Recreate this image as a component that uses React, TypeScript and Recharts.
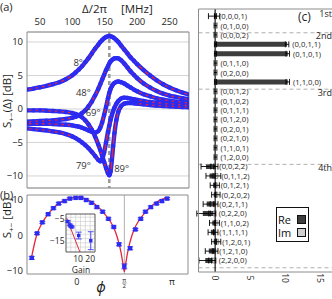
import React from 'react';
import {
  LineChart, ComposedChart, Line, Bar, Scatter, XAxis, YAxis, CartesianGrid,
  ReferenceLine, ReferenceDot, ErrorBar, Label,
} from 'recharts';

const FONT = '"Open Sans", "Noto Sans", "DejaVu Sans", sans-serif';
const BLUE = '#2b2bf2';
const RED = '#e3263c';
const FRAME = '#8c8c8c';
const GRID = '#c9c9c9';
const INK = '#1e1e1e';

const minus = (v: number | string) => String(v).replace('-', '\u2212');

/* ---------------- panel (a): S+-(Δ) vs detuning ---------------- */
const detuningMHz = [30, 40, 50, 60, 70, 80, 90, 100, 105, 110, 115, 120, 125, 130, 135, 140, 143, 146, 149, 152, 155, 157, 159, 161, 163, 165, 168, 171, 175, 180, 185, 190, 195, 200, 210, 220, 230, 240, 250, 260, 270, 280];
const gain8 = [2.9, 3.05, 3.25, 3.45, 3.7, 4.0, 4.45, 5.05, 5.45, 5.9, 6.4, 7.0, 7.6, 8.3, 9.0, 9.6, 10.0, 10.3, 10.55, 10.75, 10.85, 10.9, 10.85, 10.8, 10.7, 10.55, 10.3, 10.0, 9.5, 8.9, 8.3, 7.7, 7.2, 6.7, 5.8, 5.0, 4.3, 3.7, 3.2, 2.8, 2.45, 2.15];
const gain48 = [-1.9, -1.85, -1.8, -1.75, -1.7, -1.6, -1.5, -1.3, -1.15, -0.95, -0.6, -0.2, 0.4, 1.1, 2.0, 3.0, 3.7, 4.4, 5.1, 5.8, 6.4, 6.8, 7.1, 7.3, 7.45, 7.55, 7.6, 7.55, 7.3, 6.8, 6.2, 5.6, 5.1, 4.6, 3.8, 3.2, 2.7, 2.3, 2.0, 1.8, 1.6, 1.45];
const gain69 = [-2.2, -2.2, -2.2, -2.2, -2.25, -2.3, -2.35, -2.45, -2.55, -2.65, -2.8, -3.0, -3.2, -3.4, -3.5, -3.3, -2.8, -2.0, -0.9, 0.3, 1.6, 2.4, 3.0, 3.4, 3.7, 3.9, 4.05, 4.1, 4.0, 3.8, 3.5, 3.2, 2.9, 2.65, 2.2, 1.9, 1.6, 1.4, 1.25, 1.1, 1.0, 0.9];
const gain79 = [-2.9, -3.0, -3.1, -3.2, -3.35, -3.5, -3.75, -4.1, -4.35, -4.65, -5.0, -5.4, -5.85, -6.4, -7.0, -7.6, -7.8, -7.5, -6.5, -5.0, -3.4, -2.5, -1.6, -0.9, -0.3, 0.2, 0.8, 1.2, 1.55, 1.7, 1.65, 1.55, 1.45, 1.35, 1.2, 1.05, 0.95, 0.85, 0.75, 0.7, 0.6, 0.55];
const gain89 = [-0.2, -0.2, -0.2, -0.25, -0.3, -0.35, -0.45, -0.6, -0.75, -0.95, -1.25, -1.7, -2.3, -3.1, -4.1, -5.3, -6.1, -7.0, -7.9, -8.8, -9.6, -9.9, -9.3, -7.6, -5.5, -3.6, -1.6, -0.4, 0.4, 0.8, 0.9, 0.9, 0.85, 0.8, 0.7, 0.6, 0.5, 0.45, 0.4, 0.35, 0.3, 0.25];
const curveKeys = ['c8', 'c48', 'c69', 'c79', 'c89'];
const curveValues = [gain8, gain48, gain69, gain79, gain89];
const phaseNames = ['8°', '48°', '69°', '79°', '89°'];
const phaseNameMHz = [109, 117, 132, 117, 176];
const phaseNameDb = [6.9, 2.4, -0.6, -8.4, -8.9];
const pumpMHz = 157;
const aTopTicks = [50, 100, 150, 200, 250];
const aTopMinor = [30, 40, 60, 70, 80, 90, 110, 120, 130, 140, 160, 170, 180, 190, 210, 220, 230, 240, 260, 270, 280];
const aYTicks = [-10, -5, 0, 5, 10];
const aYMinor = [-11, -9, -8, -7, -6, -4, -3, -2, -1, 1, 2, 3, 4, 6, 7, 8, 9, 11];

const aRows = detuningMHz.map((f, i) => {
  const r: any = { f };
  curveKeys.forEach((k, j) => { r[k] = curveValues[j][i]; });
  return r;
});

/* ---------------- panel (b): S+- vs phase ---------------- */
const phaseDeg = [-85, -75, -65, -54, -44, -34, -23, -13, -2, 8, 18, 28, 38, 49, 60, 70, 80, 90, 101, 111, 121, 130, 140, 151, 161, 171];
const phaseDb = [-6.3, 0.6, 3.7, 6.0, 7.7, 9.0, 9.7, 10.4, 10.6, 10.6, 10.0, 9.2, 8.0, 6.7, 4.7, 2.4, -2.5, -8.7, -3.6, 1.7, 4.7, 6.7, 8.0, 9.0, 9.7, 10.4];
const phaseErr = [0.4, 0.3, 0.3, 0.3, 0.3, 0.3, 0.3, 0.3, 0.3, 0.3, 0.3, 0.3, 0.3, 0.3, 0.3, 0.3, 0.4, 0.7, 0.4, 0.3, 0.3, 0.3, 0.3, 0.3, 0.3, 0.3];
const fitPhaseDeg = [-86, -80, -75, -70, -65, -60, -50, -40, -30, -20, -10, 0, 10, 20, 30, 40, 50, 60, 65, 70, 75, 80, 84, 87, 90, 93, 96, 100, 105, 110, 115, 120, 130, 140, 150, 160, 170, 173];
const fitPhaseDb = [-6.6, -2.4, 0.4, 2.2, 3.6, 4.8, 6.8, 8.3, 9.4, 10.1, 10.5, 10.7, 10.6, 10.1, 9.3, 8.1, 6.6, 4.7, 3.6, 2.2, 0.3, -2.3, -5.0, -7.6, -10.2, -7.6, -5.0, -2.3, 0.3, 2.2, 3.6, 4.7, 6.6, 8.1, 9.3, 10.1, 10.5, 10.6];
const phiTickDeg = [0, 90, 180];
const bYTicks = [-10, 0, 10];
const bYMinor = [-8, -6, -4, -2, 2, 4, 6, 8];

const bRows = phaseDeg.map((phi, i) => ({ phi, db: phaseDb[i], err: phaseErr[i] }));
const bFitRows = fitPhaseDeg.map((phi, i) => ({ phi, fit: fitPhaseDb[i] }));

/* inset: isolation vs gain */
const insetGain = [1.5, 3.2, 4.0, 4.8, 10.5, 20.5];
const insetDb = [-6.0, -7.6, -8.2, -8.6, -12.6, -15.0];
const insetErr = [0.4, 0.4, 0.4, 0.4, 1.6, 4.2];
const insetFitGain = [0.5, 11.5];
const insetFitDb = [-4.3, -20.3];
const insetGridGain = [4, 8, 12, 16, 20];
const insetGridDb = [-18, -16, -14, -12, -10, -8, -6, -4];

const insetRows = insetGain.map((g, i) => ({ g, db: insetDb[i], err: insetErr[i] }));
const insetFitRows = insetFitGain.map((g, i) => ({ g, db: insetFitDb[i] }));

/* ---------------- panel (c): process tomography ---------------- */
const basisLabels = ['(0,0,0,1)', '(0,1,0,0)', '(0,0,0,2)', '(0,0,1,1)', '(0,1,0,1)', '(0,1,1,0)', '(0,2,0,0)', '(1,1,0,0)',
  '(0,0,1,2)', '(0,1,0,2)', '(0,1,1,1)', '(0,1,2,0)', '(0,2,0,1)', '(0,2,1,0)', '(1,1,0,1)', '(1,2,0,0)',
  '(0,0,2,2)', '(0,1,1,2)', '(0,1,2,1)', '(0,2,0,2)', '(0,2,1,1)', '(0,2,2,0)', '(1,1,0,2)', '(1,1,1,1)', '(1,2,0,1)', '(1,2,1,0)', '(2,2,0,0)'];
const reValue = [-0.15, 0.05, 0.05, 10.2, 10.3, 0.05, 0.05, 10.3, 0.05, 0.05, 0.05, 0.05, 0.05, 0.05, 0.05, 0.05, -1.3, -0.8, -0.3, -0.2, -1.2, -1.75, -0.4, -0.6, -0.2, -0.9, -1.4];
const reError = [0.8, 0.2, 0.2, 0.25, 0.25, 0.2, 0.2, 0.25, 0.2, 0.2, 0.2, 0.2, 0.2, 0.2, 0.2, 0.2, 0.7, 0.5, 0.4, 0.3, 0.5, 0.85, 0.4, 0.4, 0.3, 0.5, 0.9];
const imValue = [0.05, 0, 0, 0.05, 0.05, 0, 0, 0.05, 0, 0, 0, 0, 0, 0, 0, 0, 0.1, 0.4, 0.3, 0.4, 0.1, -0.3, 0.3, 0.1, 0.5, 0.1, -0.4];
const imError = [0.15, 0.15, 0.15, 0.15, 0.15, 0.15, 0.15, 0.15, 0.15, 0.15, 0.15, 0.15, 0.15, 0.15, 0.15, 0.15, 0.3, 0.4, 0.3, 0.3, 0.3, 0.4, 0.3, 0.3, 0.3, 0.3, 0.5];
const orderNames = ['1st', '2nd', '3rd', '4th'];
const orderSizes = [2, 6, 8, 11];
const cXTicks = [0, 5, 10, 15];
const legendNames = ['Re', 'Im'];
const legendFills = ['#3d3d3d', '#cfcfcf'];

const cRows = basisLabels.map((label, i) => ({ row: i, re: reValue[i], reErr: reError[i], im: imValue[i], imErr: imError[i] }));
const cLabelRows = basisLabels.map((label, i) => ({
  row: i, label,
  pos: Math.max(0, reValue[i] > 0 ? reValue[i] + reError[i] : 0, imValue[i] > 0 ? imValue[i] : 0) + 0.5,
}));
const orderEnds: number[] = [];
orderSizes.reduce((acc, n) => { orderEnds.push(acc + n); return acc + n; }, 0);

const C_Y_DOMAIN: [number, number] = [-0.78, 27.2];

/* ---------------- helpers ---------------- */
const tickStyle = { fontSize: 9.5, fill: INK, fontFamily: FONT };

const YTitleA = () => (
  <text transform="translate(11,101) rotate(-90)" textAnchor="middle" fontSize={11.5} fill={INK} fontFamily={FONT}>
    <tspan>S</tspan><tspan fontSize={8} dy={2.5}>+−</tspan><tspan dy={-2.5}>(Δ) [dB]</tspan>
  </text>
);
const XTitleA = () => (
  <text y={12.5} fontSize={11.5} fill={INK} fontFamily={FONT}>
    <tspan x={82}>Δ/2π</tspan><tspan x={121}>[MHz]</tspan>
  </text>
);
const YTitleB = () => (
  <text transform="translate(11,33) rotate(-90)" textAnchor="middle" fontSize={11.5} fill={INK} fontFamily={FONT}>
    <tspan>S</tspan><tspan fontSize={8} dy={2.5}>+−</tspan><tspan dy={-2.5}> [dB]</tspan>
  </text>
);
const XTitleB = () => (
  <text x={101} y={107} textAnchor="middle" fontSize={14} fontStyle="italic" fill={INK} fontFamily={FONT}>ϕ</text>
);
const GainTitle = () => (
  <text x={41} y={68} textAnchor="middle" fontSize={8.5} fill={INK} fontFamily={FONT}>Gain</text>
);

const PhiTick = (p: any) => {
  const v = p.payload.value;
  if (v === 90) {
    return (
      <g>
        <text x={p.x} y={p.y + 4.5} textAnchor="middle" fontSize={6} fill={INK} fontFamily={FONT}>π</text>
        <line x1={p.x - 2.2} x2={p.x + 2.2} y1={p.y + 6} y2={p.y + 6} stroke={INK} strokeWidth={0.5} />
        <text x={p.x} y={p.y + 11} textAnchor="middle" fontSize={6} fill={INK} fontFamily={FONT}>2</text>
      </g>
    );
  }
  return <text x={p.x} y={p.y + 8} textAnchor="middle" fontSize={9} fill={INK} fontFamily={FONT}>{v === 0 ? '0' : 'π'}</text>;
};

const RotTick = (p: any) => (
  <text transform={`translate(${p.x},${p.y + 6}) rotate(90)`} textAnchor="middle" dominantBaseline="central"
    fontSize={8.5} fill={INK} fontFamily={FONT}>{p.payload.value}</text>
);

const RowLabel = (p: any) => (
  <text x={p.cx} y={p.cy} dy="0.36em" fontSize={7.7} fill={INK} fontFamily={FONT}>{p.payload.label}</text>
);

const orderLabel = (text: string, drop: number) => (p: any) => {
  const vb = p.viewBox || {};
  return (
    <text x={vb.x + vb.width - 3} y={vb.y + drop} textAnchor="end" fontSize={9} fill={INK} fontFamily={FONT}>{text}</text>
  );
};

const LegendBox = () => (
  <div style={{ width: 33, height: 35, border: '1px solid #111', background: '#fff', boxSizing: 'border-box', padding: '5px 0 0 1px', fontFamily: FONT, fontSize: 11, color: '#111' }}>
    {legendNames.map((n, i) => (
      <div key={n} style={{ display: 'flex', alignItems: 'center', height: 13 }}>
        <span style={{ width: 19, lineHeight: '12px' }}>{n}</span>
        <span style={{ width: 9, height: 9, background: legendFills[i], border: '1px solid #111', boxSizing: 'border-box' }} />
      </div>
    ))}
  </div>
);

/* ---------------- panels ---------------- */
function PanelA() {
  const dom: [number, number] = [30, 280];
  const ydom: [number, number] = [-11.8, 11.5];
  return (
    <LineChart width={200} height={200} data={aRows} margin={{ top: 2, right: 10, bottom: 11, left: 2 }}>
      <CartesianGrid xAxisId="t" yAxisId="l" vertical={false} stroke={GRID} strokeWidth={0.8} />
      <XAxis xAxisId="t" orientation="top" type="number" dataKey="f" domain={dom} allowDataOverflow ticks={aTopTicks} interval={0}
        height={30} tickLine={false} axisLine={false} tickSize={0} tickMargin={7} tick={tickStyle}>
        <Label content={XTitleA} />
      </XAxis>
      <XAxis xAxisId="tM" orientation="top" mirror type="number" domain={dom} allowDataOverflow ticks={aTopTicks} interval={0}
        height={0.01} tick={false} tickSize={4} tickLine={{ stroke: FRAME }} axisLine={{ stroke: FRAME }} />
      <XAxis xAxisId="tm" orientation="top" mirror type="number" domain={dom} allowDataOverflow ticks={aTopMinor} interval={0}
        height={0.01} tick={false} tickSize={2} tickLine={{ stroke: FRAME }} axisLine={false} />
      <XAxis xAxisId="b" orientation="bottom" type="number" domain={dom} allowDataOverflow height={1}
        tick={false} tickLine={false} axisLine={{ stroke: FRAME }} />
      <YAxis yAxisId="l" type="number" domain={ydom} allowDataOverflow ticks={aYTicks} interval={0} width={25}
        tickLine={false} tickSize={0} tickMargin={4} axisLine={{ stroke: FRAME }} tick={tickStyle} tickFormatter={minus}>
        <Label content={YTitleA} />
      </YAxis>
      <YAxis yAxisId="lM" mirror type="number" domain={ydom} allowDataOverflow ticks={aYTicks} interval={0} width={0.01}
        tick={false} tickSize={4} tickLine={{ stroke: FRAME }} axisLine={false} />
      <YAxis yAxisId="lm" mirror type="number" domain={ydom} allowDataOverflow ticks={aYMinor} interval={0} width={0.01}
        tick={false} tickSize={2} tickLine={{ stroke: FRAME }} axisLine={false} />
      <YAxis yAxisId="r" orientation="right" type="number" domain={ydom} allowDataOverflow width={1}
        tick={false} tickLine={false} axisLine={{ stroke: FRAME }} />
      <ReferenceLine xAxisId="t" yAxisId="l" x={pumpMHz} stroke="#9a9a9a" strokeWidth={2.6} strokeDasharray="4 3" />
      {curveKeys.map((k) => (
        <Line key={k + 'b'} xAxisId="t" yAxisId="l" dataKey={k} type="monotone" stroke={BLUE} strokeWidth={4.4}
          dot={{ r: 2.2, fill: BLUE, stroke: 'none' }} isAnimationActive={false} />
      ))}
      {curveKeys.map((k) => (
        <Line key={k + 'r'} xAxisId="t" yAxisId="l" dataKey={k} type="monotone" stroke={RED} strokeWidth={1.3}
          dot={false} isAnimationActive={false} />
      ))}
      {phaseNames.map((t, i) => (
        <ReferenceDot key={t} xAxisId="t" yAxisId="l" x={phaseNameMHz[i]} y={phaseNameDb[i]} r={0} fill="none" stroke="none"
          label={{ value: t, position: 'center', fontSize: 9.5, fill: '#333', fontFamily: FONT }} />
      ))}
    </LineChart>
  );
}

function PanelB() {
  const dom: [number, number] = [-94, 210.4];
  const ydom: [number, number] = [-10.85, 11.41];
  return (
    <ComposedChart width={200} height={114} margin={{ top: 10, right: 11, bottom: 5, left: 2 }}>
      <XAxis xAxisId="x" orientation="bottom" type="number" dataKey="phi" domain={dom} allowDataOverflow ticks={phiTickDeg} interval={0}
        height={20} tickLine={false} tickSize={0} tickMargin={3} axisLine={{ stroke: FRAME }} tick={PhiTick}>
        <Label content={XTitleB} />
      </XAxis>
      <XAxis xAxisId="xM" orientation="bottom" mirror type="number" domain={dom} allowDataOverflow ticks={phiTickDeg} interval={0}
        height={0.01} tick={false} tickSize={3} tickLine={{ stroke: FRAME }} axisLine={false} />
      <XAxis xAxisId="top" orientation="top" mirror type="number" domain={dom} allowDataOverflow height={0.01}
        tick={false} tickLine={false} axisLine={{ stroke: FRAME }} />
      <YAxis yAxisId="y" type="number" domain={ydom} allowDataOverflow ticks={bYTicks} interval={0} width={25}
        tickLine={false} tickSize={0} tickMargin={4} axisLine={{ stroke: FRAME }} tick={tickStyle} tickFormatter={minus}>
        <Label content={YTitleB} />
      </YAxis>
      <YAxis yAxisId="yM" mirror type="number" domain={ydom} allowDataOverflow ticks={bYTicks} interval={0} width={0.01}
        tick={false} tickSize={4} tickLine={{ stroke: FRAME }} axisLine={false} />
      <YAxis yAxisId="ym" mirror type="number" domain={ydom} allowDataOverflow ticks={bYMinor} interval={0} width={0.01}
        tick={false} tickSize={2} tickLine={{ stroke: FRAME }} axisLine={false} />
      <YAxis yAxisId="r" orientation="right" type="number" domain={ydom} allowDataOverflow width={1}
        tick={false} tickLine={false} axisLine={{ stroke: FRAME }} />
      <ReferenceLine xAxisId="x" yAxisId="y" x={90} stroke="#b0b0b0" strokeWidth={1} />
      <Line xAxisId="x" yAxisId="y" data={bFitRows} dataKey="fit" type="monotone" stroke={RED} strokeWidth={1.3} dot={false} isAnimationActive={false} />
      <Scatter xAxisId="x" yAxisId="y" data={bRows} dataKey="db" isAnimationActive={false}
        shape={(p: any) => <rect x={p.cx - 2.2} y={p.cy - 2.2} width={4.4} height={4.4} fill={BLUE} />}>
        <ErrorBar dataKey="err" direction="y" width={3} stroke={BLUE} strokeWidth={0.8} />
      </Scatter>
    </ComposedChart>
  );
}

function Inset() {
  const dom: [number, number] = [0, 24];
  const ydom: [number, number] = [-20.3, -2.5];
  return (
    <ComposedChart width={60} height={70} margin={{ top: 9, right: 4, bottom: 13, left: 6 }}>
      <CartesianGrid xAxisId="x" yAxisId="y" fill="#fff" stroke={GRID} strokeWidth={0.6}
        horizontalValues={insetGridDb} verticalValues={insetGridGain} />
      <XAxis xAxisId="x" type="number" dataKey="g" domain={dom} allowDataOverflow ticks={[10, 20]} interval={0} height={10}
        tickSize={0} tickMargin={4} tickLine={false} axisLine={{ stroke: '#555' }} tick={{ fontSize: 8.5, fill: INK, fontFamily: FONT }}>
        <Label content={GainTitle} />
      </XAxis>
      <XAxis xAxisId="top" orientation="top" mirror type="number" domain={dom} allowDataOverflow height={0.01}
        tick={false} tickLine={false} axisLine={{ stroke: '#555' }} />
      <YAxis yAxisId="y" type="number" domain={ydom} allowDataOverflow ticks={[-5, -15]} interval={0} width={20}
        tickSize={0} tickMargin={1.5} tickLine={false} axisLine={{ stroke: '#555' }} tick={{ fontSize: 8.5, fill: INK, fontFamily: FONT }} tickFormatter={minus} />
      <YAxis yAxisId="r" orientation="right" type="number" domain={ydom} allowDataOverflow width={1}
        tick={false} tickLine={false} axisLine={{ stroke: '#555' }} />
      <Line xAxisId="x" yAxisId="y" data={insetFitRows} dataKey="db" type="linear" stroke={RED} strokeWidth={1} dot={false} isAnimationActive={false} />
      <Scatter xAxisId="x" yAxisId="y" data={insetRows} dataKey="db" isAnimationActive={false}
        shape={(p: any) => <rect x={p.cx - 1.7} y={p.cy - 1.7} width={3.4} height={3.4} fill={BLUE} />}>
        <ErrorBar dataKey="err" direction="y" width={3} stroke={BLUE} strokeWidth={0.8} />
      </Scatter>
    </ComposedChart>
  );
}

function PanelC() {
  const dom: [number, number] = [-2.36, 17];
  return (
    <ComposedChart layout="vertical" width={345} height={299} data={cRows} barGap={-5}
      margin={{ top: 9, right: 10, bottom: 7, left: 197.5 }}>
      <XAxis xAxisId="x" type="number" domain={dom} allowDataOverflow ticks={cXTicks} interval={0} height={20}
        tickSize={0} tickMargin={0} tickLine={false} axisLine={{ stroke: FRAME }} tick={RotTick} />
      <XAxis xAxisId="xM" orientation="bottom" mirror type="number" domain={dom} allowDataOverflow ticks={cXTicks} interval={0}
        height={0.01} tick={false} tickSize={3} tickLine={{ stroke: FRAME }} axisLine={false} />
      <XAxis xAxisId="top" orientation="top" mirror type="number" domain={dom} allowDataOverflow height={0.01}
        tick={false} tickLine={false} axisLine={{ stroke: FRAME }} />
      <YAxis yAxisId="y" type="number" dataKey="row" domain={C_Y_DOMAIN} allowDataOverflow width={1}
        tick={false} tickLine={false} axisLine={{ stroke: FRAME }} />
      <ReferenceLine xAxisId="x" yAxisId="y" y={C_Y_DOMAIN[0]} stroke="none"
        label={<Label content={orderLabel(orderNames[0], 8)} />} />
      {orderEnds.map((end, i) => (
        <ReferenceLine key={'sep' + i} xAxisId="x" yAxisId="y" y={end - 0.5 + 0.25} stroke="#9a9a9a" strokeWidth={0.8} strokeDasharray="4 3"
          label={i + 1 < orderNames.length ? <Label content={orderLabel(orderNames[i + 1], 6.5)} /> : undefined} />
      ))}
      <ReferenceLine xAxisId="x" yAxisId="y" x={0} stroke="#000" strokeWidth={1.1} />
      <Bar xAxisId="x" yAxisId="y" dataKey="re" name="Re" fill={legendFills[0]} barSize={5} isAnimationActive={false}>
        <ErrorBar dataKey="reErr" direction="x" width={3} stroke="#000" strokeWidth={0.9} />
      </Bar>
      <Bar xAxisId="x" yAxisId="y" dataKey="im" name="Im" fill={legendFills[1]} stroke="#333" strokeWidth={0.4} barSize={5} isAnimationActive={false}>
        <ErrorBar dataKey="imErr" direction="x" width={3} stroke="#000" strokeWidth={0.9} />
      </Bar>
      <Scatter xAxisId="x" yAxisId="y" data={cLabelRows} dataKey="pos" shape={RowLabel} isAnimationActive={false} />
    </ComposedChart>
  );
}

export default function App() {
  return (
    <div style={{ position: 'absolute', left: 0, top: 0, width: 332, height: 299, overflow: 'hidden', background: '#fff' }}>
      <div style={{ position: 'absolute', left: 0, top: 0 }}><PanelC /></div>
      <div style={{ position: 'absolute', left: 276, top: 207 }}><LegendBox /></div>
      <div style={{ position: 'absolute', left: 0, top: 0 }}><PanelA /></div>
      <div style={{ position: 'absolute', left: 0, top: 185 }}><PanelB /></div>
      <div style={{ position: 'absolute', left: 40, top: 205 }}><Inset /></div>
      <svg width={332} height={299} style={{ position: 'absolute', left: 0, top: 0, pointerEvents: 'none' }}>
        <text x={0} y={11} fontSize={11} fill={INK} fontFamily={FONT}>(a)</text>
        <text x={0} y={199} fontSize={11} fill={INK} fontFamily={FONT}>(b)</text>
        <text x={298} y={21} fontSize={12} fill={INK} fontFamily={FONT}>(c)</text>
      </svg>
    </div>
  );
}
